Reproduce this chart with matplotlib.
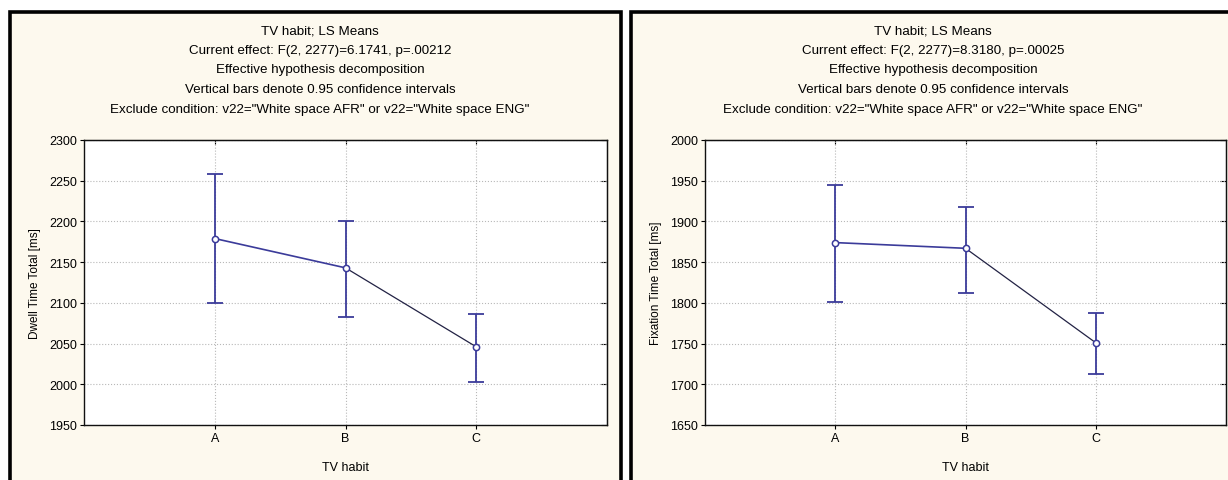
import numpy as np
import matplotlib
matplotlib.use("Agg")
import matplotlib.pyplot as plt
from matplotlib.patches import Rectangle

plt.rcParams['font.family'] = ['Liberation Sans', 'DejaVu Sans']

# data
groups = ['A', 'B', 'C']

dwell_mean = [2179, 2143, 2046]
dwell_upper = [2258, 2201, 2086]
dwell_lower = [2100, 2083, 2003]

fix_mean = [1874, 1867, 1751]
fix_upper = [1945, 1918, 1788]
fix_lower = [1801, 1812, 1713]

titles_left = ["TV habit; LS Means",
               "Current effect: F(2, 2277)=6.1741, p=.00212",
               "Effective hypothesis decomposition",
               "Vertical bars denote 0.95 confidence intervals",
               'Exclude condition: v22="White space AFR" or v22="White space ENG"']
titles_right = ["TV habit; LS Means",
                "Current effect: F(2, 2277)=8.3180, p=.00025",
                "Effective hypothesis decomposition",
                "Vertical bars denote 0.95 confidence intervals",
                'Exclude condition: v22="White space AFR" or v22="White space ENG"']

W, H = 1228, 481
fig = plt.figure(figsize=(W / 100, H / 100), dpi=100)
fig.patch.set_facecolor('white')

cream = '#fdf9ee'
blue = '#3b3b9a'

# cream panels with thick black frames (cut off at bottom / right)
fig.patches.append(Rectangle((10 / W, -0.05), 611 / W, 1.05 - 13 / H, transform=fig.transFigure,
                             facecolor=cream, edgecolor='black', linewidth=2.6, zorder=-5))
fig.patches.append(Rectangle((631 / W, -0.05), 0.6, 1.05 - 13 / H, transform=fig.transFigure,
                             facecolor=cream, edgecolor='black', linewidth=2.6, zorder=-5))

tfs = 9.6  # header text size


def panel(left_px, right_px, mean, upper, lower, ylim, ylabel, titles, title_x):
    ax = fig.add_axes([left_px / W, 1 - 426 / H, (right_px - left_px) / W, 285 / H])
    ax.set_facecolor('white')
    x = np.arange(1, len(groups) + 1)
    mean = np.array(mean)
    yerr = [mean - np.array(lower), np.array(upper) - mean]
    ax.errorbar(x, mean, yerr=yerr, fmt='none', ecolor=blue, elinewidth=1.3,
                capsize=6, capthick=1.3, zorder=3)
    ax.plot(x[:2], mean[:2], color=blue, lw=1.2, zorder=3)
    ax.plot(x[1:], mean[1:], color='#222244', lw=0.9, zorder=3)
    ax.plot(x, mean, 'o', ms=4.5, mfc='white', mec=blue, mew=1.1, zorder=4)

    ax.set_xlim(0, 4)
    ax.set_ylim(*ylim)
    ax.set_xticks(x)
    ax.set_xticklabels(groups)
    ax.set_yticks(np.arange(ylim[0], ylim[1] + 1, 50))
    ax.grid(True, color='#b8b8b8', linestyle=':', linewidth=0.8)
    ax.set_axisbelow(True)
    for s in ax.spines.values():
        s.set_linewidth(1.0)
        s.set_color('#111111')
    ax.tick_params(direction='out', length=3, width=0.8, labelsize=9, pad=2)

    # inward ticks on top and right like the original
    top = ax.secondary_xaxis('top')
    top.set_xticks(x)
    top.tick_params(direction='in', length=3, width=0.8, labeltop=False)
    right = ax.secondary_yaxis('right')
    right.set_yticks(np.arange(ylim[0], ylim[1] + 1, 50))
    right.tick_params(direction='in', length=4, width=0.8, labelright=False)

    ax.set_xlabel('TV habit', fontsize=9, labelpad=12)
    ax.set_ylabel(ylabel, fontsize=8.5, labelpad=6)

    ys = [31, 51, 70, 90, 110]
    for t, yy in zip(titles, ys):
        fig.text(title_x / W, 1 - yy / H, t, ha='center', va='center', fontsize=tfs)
    return ax


panel(84, 607, dwell_mean, dwell_upper, dwell_lower, (1950, 2300),
      'Dwell Time Total [ms]', titles_left, 320)
panel(705, 1226, fix_mean, fix_upper, fix_lower, (1650, 2000),
      'Fixation Time Total [ms]', titles_right, 933)

fig.savefig('out.png', dpi=100, facecolor=fig.get_facecolor())
